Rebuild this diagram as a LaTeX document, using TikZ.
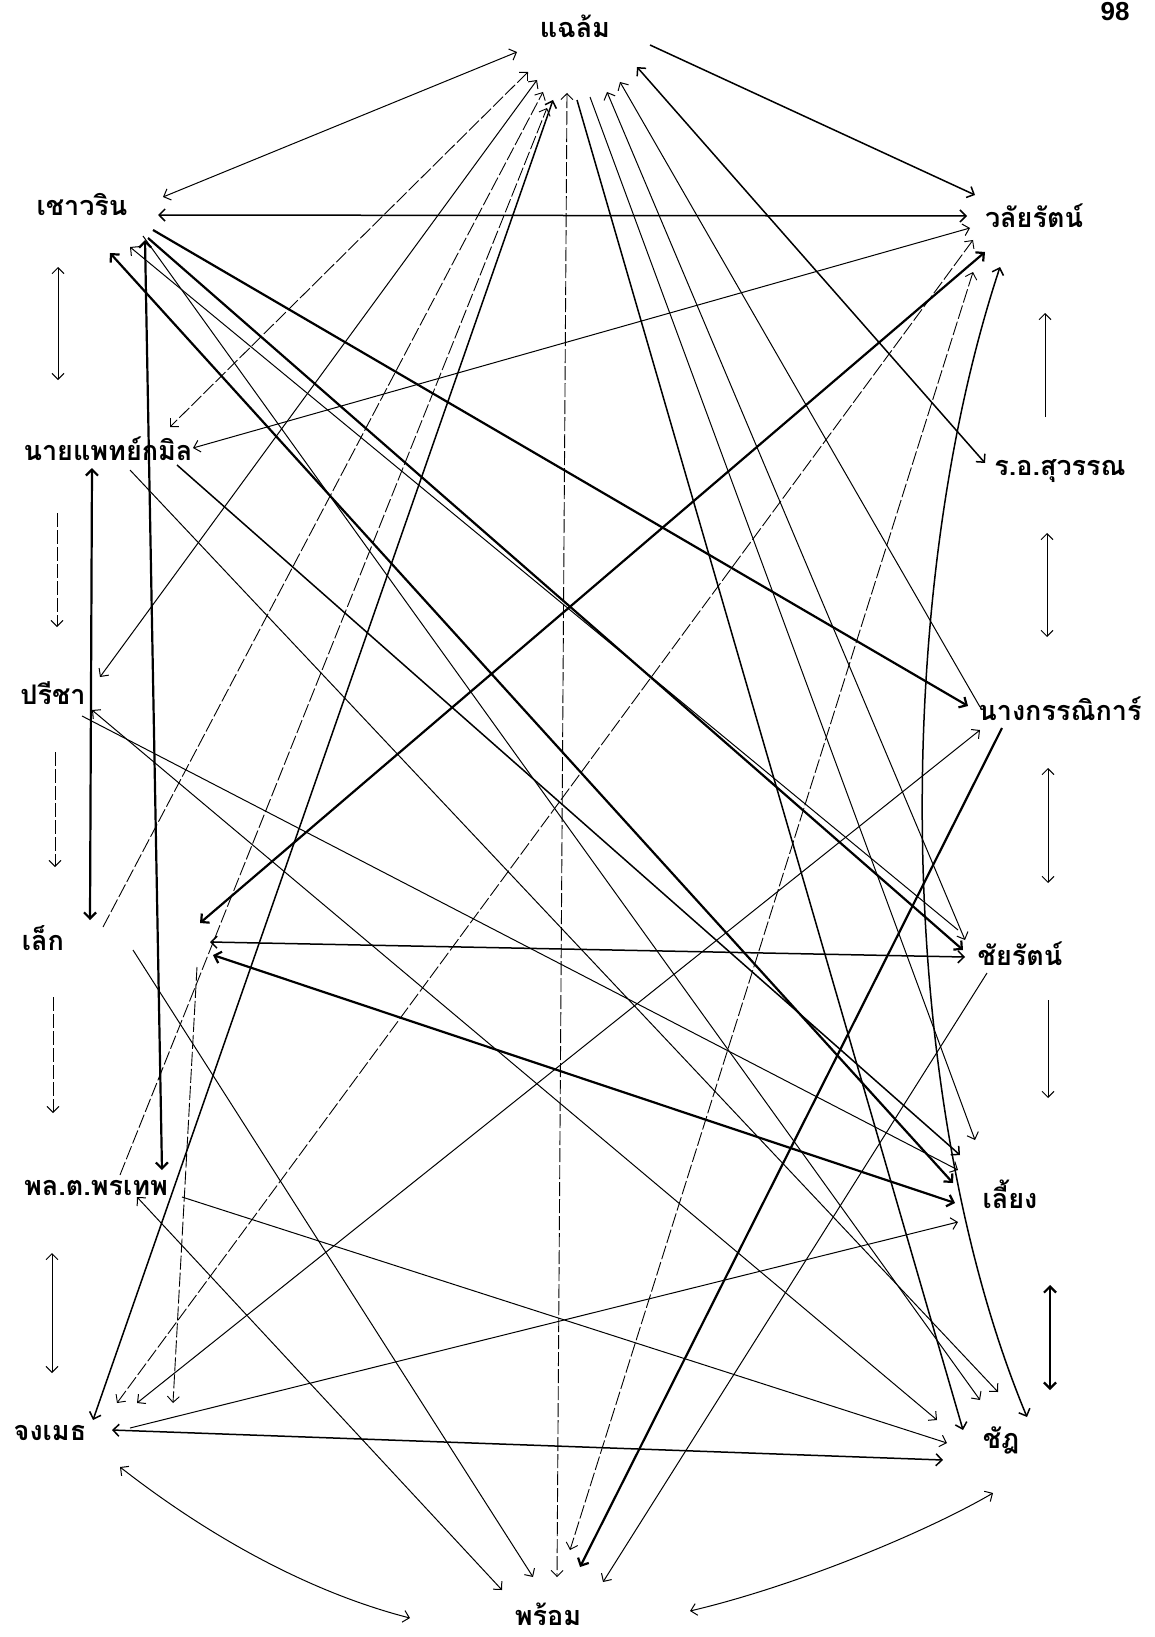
\documentclass[tikz,border=0pt]{standalone}
\usepackage{fontspec}
\newfontfamily\thai[Script=Thai]{Loma}
\newfontfamily\pnum{Liberation Sans}
\usetikzlibrary{arrows.meta}
\begin{document}
\begin{tikzpicture}[x=1pt,y=-1pt,
  lbl/.style={font=\thai\bfseries\fontsize{27}{29}\selectfont, anchor=base, inner sep=0pt},
  ln/.style={line width=1pt},
  med/.style={line width=1.5pt},
  thk/.style={line width=2.2pt},
  dsh/.style={line width=0.9pt, dash pattern=on 14pt off 3pt},
  >={Straight Barb[length=6pt,width=12pt]}]
\useasboundingbox (0,0) rectangle (1154,1637);
\fill[white] (0,0) rectangle (1154,1637);
% labels
\node[lbl] (chalaem) at (575,38) {แฉล้ม};
\node[lbl] (chaowarin) at (82,216) {เชาวริน};
\node[lbl] (walairat) at (1034,228) {วลัยรัตน์};
\node[lbl] (kamol) at (108,460) {นายแพทย์กมิล};
\node[lbl] (suwan) at (1060,475) {ร.อ.สุวรรณ};
\node[lbl] (preecha) at (53,704) {ปรีชา};
\node[lbl] (kannika) at (1060,720) {นางกรรณิการ์};
\node[lbl] (lek) at (43,950) {เล็ก};
\node[lbl] (chairat) at (1020,965) {ชัยรัตน์};
\node[lbl] (phonthep) at (96,1195) {พล.ต.พรเทพ};
\node[lbl] (liang) at (1010,1208) {เลี้ยง};
\node[lbl] (jongmet) at (50,1440) {จงเมธ};
\node[lbl] (chat) at (1001,1448) {ชัฎ};
\node[lbl] (phrom) at (548,1625) {พร้อม};
\node[font=\pnum\bfseries\fontsize{26}{26}\selectfont, anchor=base, inner sep=0pt] (pg) at (1115,21) {98};
% ports near แฉล้ม
\coordinate (t1) at (517,52);
\coordinate (t2) at (528,72);
\coordinate (t3) at (537,80);
\coordinate (t4) at (543,92);
\coordinate (t5) at (547,108);
\coordinate (t6) at (553,100);
\coordinate (t7) at (567,93);
\coordinate (t8) at (577,100);
\coordinate (t9) at (590,97);
\coordinate (t10) at (607,92);
\coordinate (t11) at (620,82);
\coordinate (t12) at (637,67);
\coordinate (t13) at (650,45);
% ports near เชาวริน
\coordinate (c1) at (163,197);
\coordinate (c2) at (158,215);
\coordinate (c3) at (153,230);
\coordinate (c4) at (148,238);
\coordinate (c5) at (143,236);
\coordinate (c6) at (130,247);
\coordinate (c7) at (110,253);
\coordinate (c8) at (145,240);
% ports near วลัยรัตน์
\coordinate (v1) at (975,195);
\coordinate (v2) at (967,216);
\coordinate (v3) at (970,228);
\coordinate (v5) at (973,240);
\coordinate (v4) at (985,252);
\coordinate (v6) at (1000,267);
\coordinate (v7) at (973,272);
% ports near ร.อ.สุวรรณ
\coordinate (s1) at (985,463);
% ports near นายแพทย์กมิล
\coordinate (k1) at (193,448);
\coordinate (k2) at (170,427);
\coordinate (k3) at (92,468);
\coordinate (k4) at (130,470);
\coordinate (k5) at (177,465);
% ports near ปรีชา
\coordinate (r1) at (100,677);
\coordinate (r2) at (92,710);
\coordinate (r3) at (82,716);
% ports near นางกรรณิการ์
\coordinate (n1) at (980,707);
\coordinate (n2) at (968,706);
\coordinate (n3) at (980,730);
\coordinate (n4) at (1002,728);
% ports near เล็ก
\coordinate (l1) at (90,920);
\coordinate (l2) at (103,927);
\coordinate (l3) at (133,950);
\coordinate (l4) at (200,923);
\coordinate (l5) at (210,942);
\coordinate (l6) at (213,955);
\coordinate (l7) at (197,967);
% ports near ชัยรัตน์
\coordinate (y1) at (965,940);
\coordinate (y2) at (963,950);
\coordinate (y3) at (958,930);
\coordinate (y4) at (965,957);
\coordinate (y5) at (987,973);
% ports near พล.ต.พรเทพ
\coordinate (w1) at (162,1170);
\coordinate (w2) at (120,1175);
\coordinate (w3) at (182,1197);
\coordinate (w4) at (137,1197);
% ports near เลี้ยง
\coordinate (g1) at (975,1140);
\coordinate (g3) at (960,1155);
\coordinate (g4) at (958,1170);
\coordinate (g2) at (953,1183);
\coordinate (g5) at (955,1203);
\coordinate (g6) at (958,1222);
% ports near จงเมธ
\coordinate (j1) at (93,1420);
\coordinate (j2) at (117,1403);
\coordinate (j3) at (137,1403);
\coordinate (j4) at (173,1403);
\coordinate (j5) at (112,1430);
\coordinate (j6) at (130,1428);
\coordinate (j7) at (120,1467);
% ports near ชัฎ
\coordinate (h1) at (963,1430);
\coordinate (h2) at (980,1400);
\coordinate (h3) at (998,1392);
\coordinate (h4) at (937,1420);
\coordinate (h5) at (947,1443);
\coordinate (h6) at (943,1460);
\coordinate (h7) at (1027,1417);
\coordinate (h8) at (993,1493);
% ports near พร้อม
\coordinate (p1) at (557,1577);
\coordinate (p2) at (533,1577);
\coordinate (p3) at (502,1590);
\coordinate (p4) at (410,1618);
\coordinate (p5) at (570,1550);
\coordinate (p6) at (580,1567);
\coordinate (p7) at (603,1582);
\coordinate (p8) at (690,1611);
% side arrow ends
\coordinate (a1) at (1045,417); \coordinate (a2) at (1045,313);
\coordinate (a3) at (1047,533); \coordinate (a4) at (1047,637);
\coordinate (a5) at (1048,768); \coordinate (a6) at (1048,883);
\coordinate (a7) at (1048,1000); \coordinate (a8) at (1048,1098);
\coordinate (a9) at (1050,1285); \coordinate (a10) at (1050,1390);
\coordinate (b1) at (58,267); \coordinate (b2) at (58,380);
\coordinate (b3) at (57,513); \coordinate (b4) at (57,627);
\coordinate (b5) at (55,752); \coordinate (b6) at (55,867);
\coordinate (b7) at (53,997); \coordinate (b8) at (53,1113);
\coordinate (b9) at (52,1253); \coordinate (b10) at (52,1373);
% edges from แฉล้ม
\draw[ln,<->] (c1) -- (t1);
\draw[med,->] (t13) -- (v1);
\draw[med,<->] (t12) -- (s1);
\draw[ln,->] (n1) -- (t11);
\draw[ln,<->] (t10) -- (y1);
\draw[ln,->] (t9) -- (g1);
\draw[med,->] (t8) -- (h1);
\draw[dsh,<->] (t7) -- (p1);
\draw[dsh,<->] (t2) -- (k2);
\draw[ln,<->] (t3) -- (r1);
\draw[dsh,->] (l2) -- (t4);
\draw[dsh,->] (w2) -- (t5);
\draw[med,<->] (t6) -- (j1);
% edges from เชาวริน
\draw[med,<->] (c2) -- (v2);
\draw[thk,->] (c3) -- (n2);
\draw[thk,->] (c4) -- (y2);
\draw[ln,->] (c5) -- (h2);
\draw[ln,->] (y3) -- (c6);
\draw[thk,<->] (c7) -- (g2);
\draw[thk,<->] (c8) -- (w1);
% edges from นายแพทย์กมิล
\draw[ln,<->] (v3) -- (k1);
\draw[thk,<->] (k3) -- (l1);
\draw[ln,->] (k4) -- (h3);
\draw[med,->] (k5) -- (g3);
% edges from ปรีชา
\draw[ln,<->] (h4) -- (r2);
\draw[ln,->] (r3) -- (g4);
% edges from เล็ก
\draw[ln,->] (l3) -- (p2);
\draw[thk,<->] (l4) -- (v4);
\draw[med,<->] (l5) -- (y4);
\draw[thk,<->] (l6) -- (g5);
\draw[dsh,->] (l7) -- (j4);
% edges from พล.ต.พรเทพ
\draw[ln,->] (w3) -- (h5);
\draw[ln,<->] (w4) -- (p3);
% edges from จงเมธ
\draw[dsh,<->] (v5) -- (j2);
\draw[ln,<->] (n3) -- (j3);
\draw[med,<->] (j5) -- (h6);
\draw[ln,->] (j6) -- (g6);
\draw[ln,<->] (j7) .. controls (220,1545) and (320,1595) .. (p4);
% other long edges
\draw[med,<->] (v6) .. controls (890,600) and (895,1100) .. (h7);
\draw[dsh,<->] (v7) -- (p5);
\draw[thk,->] (n4) -- (p6);
\draw[ln,->] (y5) -- (p7);
\draw[ln,<->] (p8) .. controls (800,1585) and (930,1530) .. (h8);
% side arrows
\draw[ln,->] (a1) -- (a2);
\draw[ln,<->] (a3) -- (a4);
\draw[ln,<->] (a5) -- (a6);
\draw[ln,->] (a7) -- (a8);
\draw[thk,<->] (a9) -- (a10);
\draw[ln,<->] (b1) -- (b2);
\draw[dsh,->] (b3) -- (b4);
\draw[dsh,->] (b5) -- (b6);
\draw[dsh,->] (b7) -- (b8);
\draw[ln,<->] (b9) -- (b10);
\end{tikzpicture}
\end{document}
